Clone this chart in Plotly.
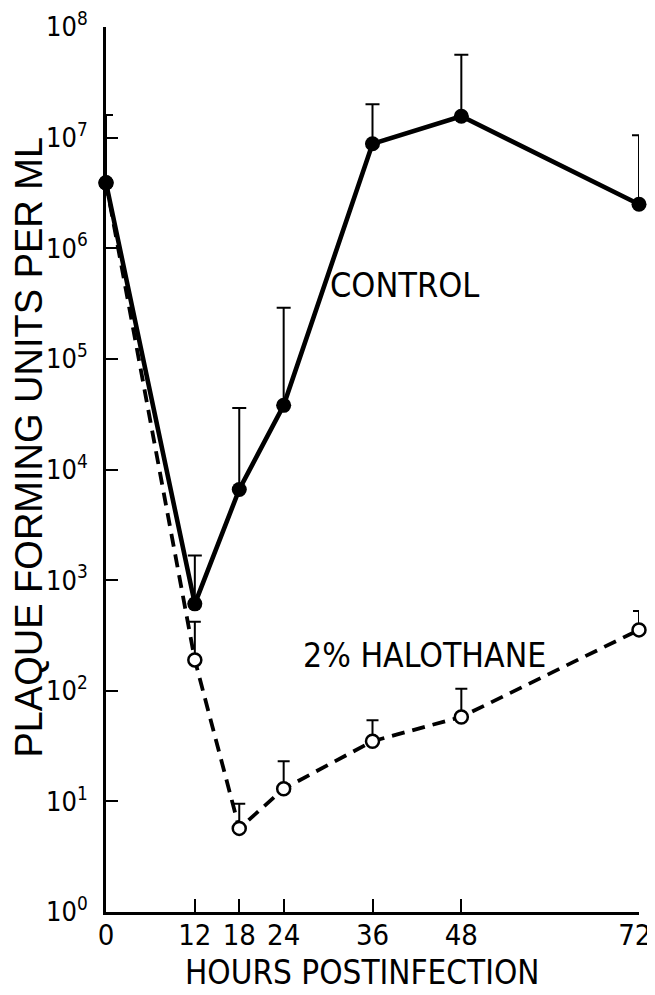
import plotly.graph_objects as go

hours = [0, 12, 18, 24, 36, 48, 72]
x_tick_labels = ["0", "12", "18", "24", "36", "48", "72\u00a0"]

control = [3.9e6, 6.1e2, 6.6e3, 3.8e4, 8.8e6, 1.56e7, 2.5e6]
control_upper = [1.6e7, 1.67e3, 3.6e4, 2.9e5, 2.0e7, 5.6e7, 1.05e7]

halothane = [3.9e6, 1.9e2, 5.7, 13, 35, 58, 355]
halothane_upper = [3.9e6, 4.2e2, 9.5, 23, 54, 104, 525]

y_tick_vals = [1, 10, 100, 1e3, 1e4, 1e5, 1e6, 1e7, 1e8]
y_tick_text = ["10<sup>%d</sup>" % i for i in range(9)]

FONT = "Liberation Sans Narrow, DejaVu Sans Condensed, Arial Narrow, sans-serif"
WIDE = "Liberation Sans, Arial, Helvetica, sans-serif"

fig = go.Figure()

fig.add_trace(go.Scatter(
    x=hours, y=halothane, mode="lines+markers",
    line=dict(color="black", width=3.8, dash="13px,8px"),
    marker=dict(symbol="circle", size=13, color="white",
                line=dict(color="black", width=2.5)),
    error_y=dict(type="data", symmetric=False,
                 array=[u - v for u, v in zip(halothane_upper, halothane)],
                 arrayminus=[0] * len(halothane),
                 color="black", thickness=2, width=6),
    cliponaxis=False, showlegend=False,
))

fig.add_trace(go.Scatter(
    x=hours, y=control, mode="lines+markers",
    line=dict(color="black", width=4.6),
    marker=dict(symbol="circle", size=15, color="black"),
    error_y=dict(type="data", symmetric=False,
                 array=[u - v for u, v in zip(control_upper, control)],
                 arrayminus=[0] * len(control),
                 color="black", thickness=2, width=7),
    cliponaxis=False, showlegend=False,
))

fig.add_annotation(x=40.3, y=5.67, xref="x", yref="y", text="CONTROL",
                   showarrow=False, font=dict(family=FONT, size=34, color="black"))
fig.add_annotation(x=43, y=2.32, xref="x", yref="y", text="2% HALOTHANE",
                   showarrow=False, font=dict(family=FONT, size=33.5, color="black"))

# axis titles
fig.add_annotation(x=34.6, y=-0.068, xref="x", yref="paper", text="HOURS POSTINFECTION",
                   showarrow=False, yanchor="middle",
                   font=dict(family=FONT, size=33, color="black"))
fig.add_annotation(x=-0.144, y=0.525, xref="paper", yref="paper",
                   text="PLAQUE FORMING UNITS PER ML", textangle=-90,
                   showarrow=False, xanchor="center", yanchor="middle",
                   font=dict(family=WIDE, size=38, color="black"))

fig.update_layout(
    width=655, height=995,
    margin=dict(l=98, r=24, t=19, b=91, autoexpand=False),
    paper_bgcolor="white", plot_bgcolor="white",
    font=dict(family=FONT, color="black"),
    xaxis=dict(
        range=[0, 72], tickvals=hours, ticktext=x_tick_labels,
        ticks="inside", ticklen=13, tickwidth=2.2, tickcolor="black",
        showline=True, linecolor="black", linewidth=2.8,
        showgrid=False, zeroline=False, automargin=False,
        ticklabeloverflow="allow", ticklabelstandoff=-5,
        tickfont=dict(family=FONT, size=29, color="black"),
    ),
    yaxis=dict(
        type="log", range=[0, 8], tickvals=y_tick_vals, ticktext=y_tick_text,
        ticks="inside", ticklen=12, tickwidth=2.2, tickcolor="black",
        showline=True, linecolor="black", linewidth=2.8,
        showgrid=False, zeroline=False, automargin=False,
        ticklabeloverflow="allow", ticklabelstandoff=10,
        tickfont=dict(family=FONT, size=27, color="black"),
    ),
)

fig.write_html("out.html")
